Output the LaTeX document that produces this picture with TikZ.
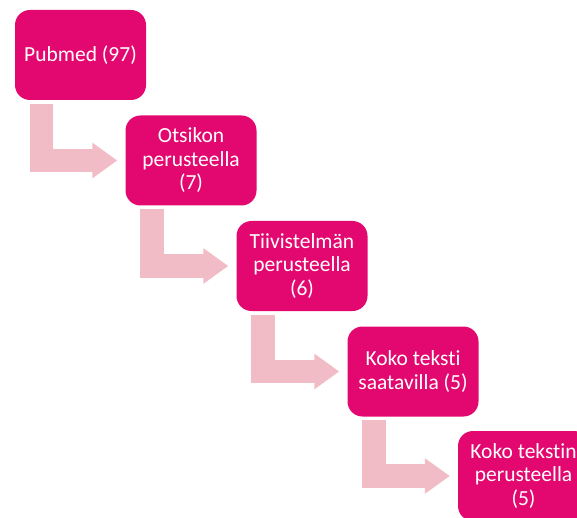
\documentclass[tikz,border=0pt]{standalone}
\usepackage{fontspec}
\setmainfont[Ligatures=NoCommon]{Carlito}
\usetikzlibrary{calc,arrows.meta}
\definecolor{stepmagenta}{HTML}{E2086F}
\definecolor{steppink}{HTML}{F2BCC7}

\begin{document}
\begin{tikzpicture}[x=1pt,y=1pt,
    stepbox/.style={rectangle, rounded corners=15pt, fill=stepmagenta, text=white,
        minimum width=131pt, minimum height=90pt, align=center, inner sep=2pt,
        font=\fontsize{21.5}{23.5}\selectfont},
    bentarrow/.style={draw=steppink, line width=23.5pt, line join=miter,
        -{Triangle[length=25pt,width=34pt]}}]
    \clip (0,0) rectangle (577,-518);
    \node[stepbox] (pubmed) at (80.5,-55) {Pubmed (97)};
    \node[stepbox] (otsikko) at (191,-160.5) {Otsikon\\perusteella\\(7)};
    \node[stepbox] (tiivis) at (302,-266) {Tiivistelmän\\perusteella\\(6)};
    \node[stepbox] (saatava) at (413,-371.5) {Koko teksti\\saatavilla (5)};
    \node[stepbox] (koko) at (523.5,-476) {Koko tekstin\\perusteella\\(5)};
    % bent arrows between the steps
    \draw[bentarrow] ($(pubmed.south west)+(26.7,-3.7)$) |- ([xshift=-8pt]otsikko.west);
    \draw[bentarrow] ($(otsikko.south west)+(26.7,-3.7)$) |- ([xshift=-8pt]tiivis.west);
    \draw[bentarrow] ($(tiivis.south west)+(26.7,-3.7)$) |- ([xshift=-8pt]saatava.west);
    \draw[bentarrow] ($(saatava.south west)+(26.7,-3.7)$) |- ([xshift=-8pt]koko.west);
\end{tikzpicture}
\end{document}
